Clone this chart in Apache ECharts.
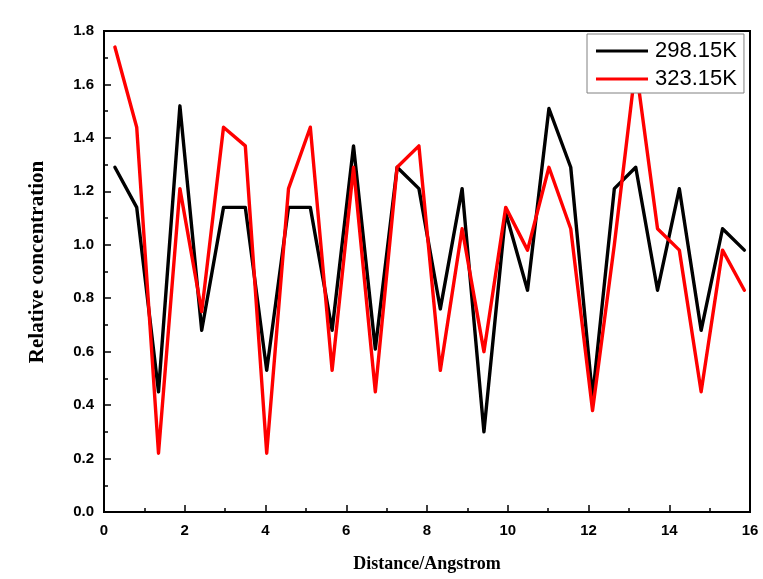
<!DOCTYPE html>
<html>
<head>
<meta charset="utf-8">
<script src="https://cdn.jsdelivr.net/npm/echarts@6/dist/echarts.min.js"></script>
<style>
  html, body { margin: 0; padding: 0; background: #fff; }
  #chart { width: 763px; height: 579px; }
</style>
</head>
<body>
<div id="chart"></div>
<script>
// Sampling positions along the distance axis (Angstrom)
const distance = [0.27, 0.81, 1.35, 1.88, 2.42, 2.96, 3.50, 4.03, 4.57, 5.11,
                  5.65, 6.18, 6.72, 7.26, 7.80, 8.33, 8.87, 9.41, 9.95, 10.49,
                  11.02, 11.56, 12.10, 12.64, 13.17, 13.71, 14.25, 14.79, 15.32, 15.86];

// Relative concentration at 298.15 K
const conc298 = [1.29, 1.14, 0.45, 1.52, 0.68, 1.14, 1.14, 0.53, 1.14, 1.14,
                 0.68, 1.37, 0.61, 1.29, 1.21, 0.76, 1.21, 0.30, 1.12, 0.83,
                 1.51, 1.29, 0.43, 1.21, 1.29, 0.83, 1.21, 0.68, 1.06, 0.98];

// Relative concentration at 323.15 K
const conc323 = [1.74, 1.44, 0.22, 1.21, 0.75, 1.44, 1.37, 0.22, 1.21, 1.44,
                 0.53, 1.29, 0.45, 1.29, 1.37, 0.53, 1.06, 0.60, 1.14, 0.98,
                 1.29, 1.06, 0.38, 1.00, 1.67, 1.06, 0.98, 0.45, 0.98, 0.83];

const seriesNames = ['298.15K', '323.15K'];
const seriesColors = ['#000000', '#ff0000'];
const yTitle = 'Relative concentration';

const pairs = ys => distance.map((x, i) => [x, ys[i]]);

const sansBold = 'Liberation Sans, Arial, sans-serif';
const serif = 'Liberation Serif, Times New Roman, serif';
const tickFont = { fontFamily: sansBold, fontWeight: 'bold', fontSize: 15, color: '#000' };

const chart = echarts.init(document.getElementById('chart'), null, { renderer: 'canvas' });

chart.setOption({
  backgroundColor: '#ffffff',
  animation: false,
  grid: {
    left: 104, right: 13, top: 31, bottom: 67,
    show: true, borderColor: '#000', borderWidth: 2, backgroundColor: 'transparent'
  },
  legend: {
    data: seriesNames,
    orient: 'vertical',
    left: 587, top: 34,
    padding: [6, 7, 3, 9],
    itemGap: 6,
    itemWidth: 52,
    itemHeight: 3,
    icon: 'rect',
    backgroundColor: '#ffffff',
    borderColor: '#808080',
    borderWidth: 1,
    textStyle: { fontFamily: sansBold, fontSize: 22, color: '#000', padding: [0, 0, 0, 2] }
  },
  // Rotated y-axis title
  graphic: [{
    type: 'text',
    x: 38, y: 262,
    rotation: Math.PI / 2,
    style: {
      text: yTitle,
      font: 'bold 21px ' + serif,
      fill: '#000',
      textAlign: 'center',
      textVerticalAlign: 'middle'
    }
  }],
  xAxis: {
    type: 'value',
    min: 0, max: 16, interval: 2,
    name: 'Distance/Angstrom',
    nameLocation: 'middle',
    nameGap: 43,
    nameTextStyle: { fontFamily: serif, fontWeight: 'bold', fontSize: 18, color: '#000' },
    axisLine: { show: true, lineStyle: { color: '#000', width: 2 } },
    axisTick: { show: true, inside: true, length: 7, lineStyle: { color: '#000', width: 1.5 } },
    minorTick: { show: true, splitNumber: 2, length: 4, lineStyle: { color: '#000', width: 1.5 } },
    axisLabel: Object.assign({ margin: 11 }, tickFont),
    splitLine: { show: false }
  },
  yAxis: {
    type: 'value',
    min: 0, max: 1.8, interval: 0.2,
    axisLine: { show: true, lineStyle: { color: '#000', width: 2 } },
    axisTick: { show: true, inside: true, length: 7, lineStyle: { color: '#000', width: 1.5 } },
    minorTick: { show: true, splitNumber: 2, length: 4, lineStyle: { color: '#000', width: 1.5 } },
    axisLabel: Object.assign({ margin: 10, formatter: v => v.toFixed(1) }, tickFont),
    splitLine: { show: false }
  },
  series: [conc298, conc323].map((ys, k) => ({
    name: seriesNames[k],
    type: 'line',
    data: pairs(ys),
    showSymbol: false,
    symbol: 'none',
    color: seriesColors[k],
    lineStyle: { color: seriesColors[k], width: 3.4, join: 'round', cap: 'round' },
    z: 2 + k
  }))
});
</script>
</body>
</html>
